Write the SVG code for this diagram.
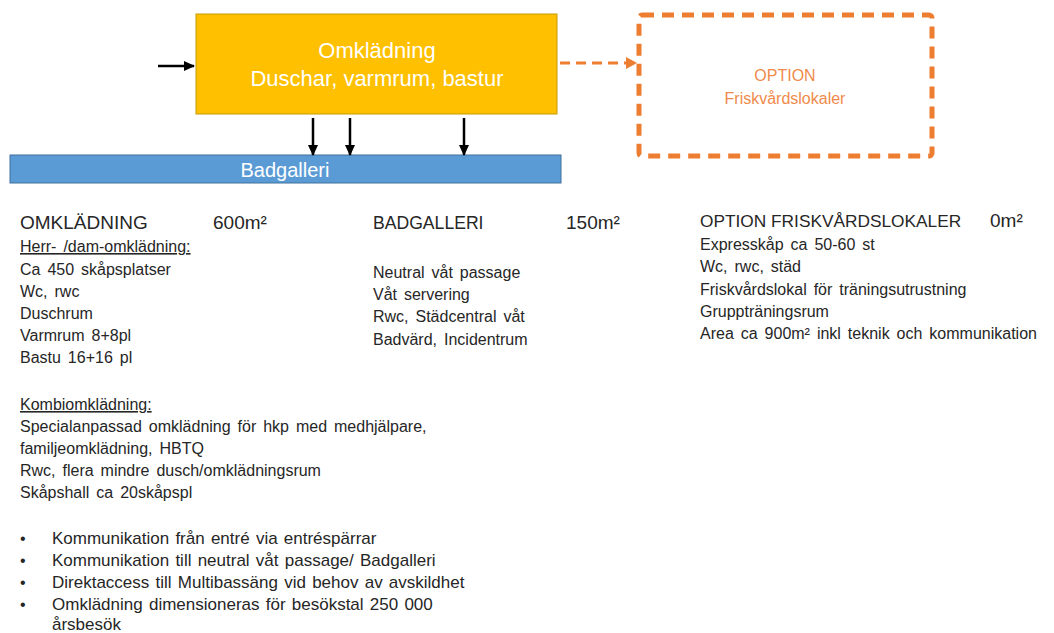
<svg xmlns="http://www.w3.org/2000/svg" width="1054" height="633" viewBox="0 0 1054 633">
<defs>
<style>
.t{font-family:"Liberation Sans",Arial,sans-serif;fill:#262626;font-size:16px;word-spacing:2.5px}
.h{font-size:19px;word-spacing:0}
.b{font-size:17px;word-spacing:1.5px}
.w{fill:#ffffff;text-anchor:middle;word-spacing:0}
.big{font-size:22px}
.mid{font-size:20px}
.o{fill:#F08A4B;text-anchor:middle;font-size:16px;word-spacing:0}
.u{text-decoration:underline}
.blk{stroke:#000;stroke-width:2.5;fill:none}
</style>
<marker id="ah" markerWidth="12" markerHeight="12" refX="10" refY="6" orient="auto" markerUnits="userSpaceOnUse">
<path d="M0,1 L11,6 L0,11 Z" fill="#000"/>
</marker>
<marker id="ao" markerWidth="12" markerHeight="12" refX="10" refY="6" orient="auto" markerUnits="userSpaceOnUse">
<path d="M0,0 L11,6 L0,12 Z" fill="#ED7D31"/>
</marker>
</defs>
<rect width="1054" height="633" fill="#fff"/>

<g id="omkladning">
<rect x="196" y="14" width="361" height="100" fill="#FFC000" stroke="#C49A00" stroke-width="1"/>
<text class="t w big" x="377" y="58">Omklädning</text>
<text class="t w big" x="377" y="86">Duschar, varmrum, bastur</text>
</g>

<g id="option">
<rect x="639" y="15" width="293" height="141" rx="3" fill="none" stroke="#ED7D31" stroke-width="5" stroke-dasharray="12 8"/>
<text class="t o" x="785" y="81">OPTION</text>
<text class="t o" x="785" y="104">Friskvårdslokaler</text>
</g>

<g id="badgalleri">
<rect x="10" y="155" width="551" height="28" fill="#5B9BD5" stroke="#41719C" stroke-width="1"/>
<text class="t w mid" x="285" y="177">Badgalleri</text>
</g>

<g id="connectors">
<line class="blk" x1="158" y1="66" x2="194" y2="66" marker-end="url(#ah)"/>
<line class="blk" x1="313" y1="118" x2="313" y2="155" marker-end="url(#ah)"/>
<line class="blk" x1="350" y1="118" x2="350" y2="155" marker-end="url(#ah)"/>
<line class="blk" x1="464" y1="118" x2="464" y2="155" marker-end="url(#ah)"/>
<line x1="560" y1="63" x2="636" y2="63" stroke="#ED7D31" stroke-width="3" stroke-dasharray="10 6" marker-end="url(#ao)"/>
</g>

<g id="text-omkladning">
<text class="t h" x="20" y="229">OMKLÄDNING</text>
<text class="t h" x="213" y="229">600m²</text>
<text class="t u" x="20" y="252">Herr- /dam-omklädning:</text>
<text class="t" x="20" y="275">Ca 450 skåpsplatser</text>
<text class="t" x="20" y="297">Wc, rwc</text>
<text class="t" x="20" y="319">Duschrum</text>
<text class="t" x="20" y="341">Varmrum 8+8pl</text>
<text class="t" x="20" y="363">Bastu 16+16 pl</text>
<text class="t u" x="20" y="410">Kombiomklädning:</text>
<text class="t" x="20" y="432">Specialanpassad omklädning för hkp med medhjälpare,</text>
<text class="t" x="20" y="454">familjeomklädning, HBTQ</text>
<text class="t" x="20" y="476">Rwc, flera mindre dusch/omklädningsrum</text>
<text class="t" x="20" y="498">Skåpshall ca 20skåpspl</text>
<text class="t" x="20" y="544">•</text>
<text class="t b" x="52" y="544">Kommunikation från entré via entréspärrar</text>
<text class="t" x="20" y="566">•</text>
<text class="t b" x="52" y="566">Kommunikation till neutral våt passage/ Badgalleri</text>
<text class="t" x="20" y="588">•</text>
<text class="t b" x="52" y="588">Direktaccess till Multibassäng vid behov av avskildhet</text>
<text class="t" x="20" y="610">•</text>
<text class="t b" x="52" y="610">Omklädning dimensioneras för besökstal 250 000</text>
<text class="t b" x="52" y="630">årsbesök</text>
</g>

<g id="text-badgalleri">
<text class="t h" x="373" y="229" style="font-size:17.6px">BADGALLERI</text>
<text class="t h" x="566" y="229">150m²</text>
<text class="t" x="373" y="278">Neutral våt passage</text>
<text class="t" x="373" y="300">Våt servering</text>
<text class="t" x="373" y="322">Rwc, Städcentral våt</text>
<text class="t" x="373" y="345">Badvärd, Incidentrum</text>
</g>

<g id="text-option">
<text class="t h" x="700" y="227" style="font-size:17.3px">OPTION FRISKVÅRDSLOKALER</text>
<text class="t h" x="990" y="227">0m²</text>
<text class="t" x="700" y="250">Expresskåp ca 50-60 st</text>
<text class="t" x="700" y="272">Wc, rwc, städ</text>
<text class="t" x="700" y="295">Friskvårdslokal för träningsutrustning</text>
<text class="t" x="700" y="317">Gruppträningsrum</text>
<text class="t" x="700" y="339">Area ca 900m² inkl teknik och kommunikation</text>
</g>
</svg>
